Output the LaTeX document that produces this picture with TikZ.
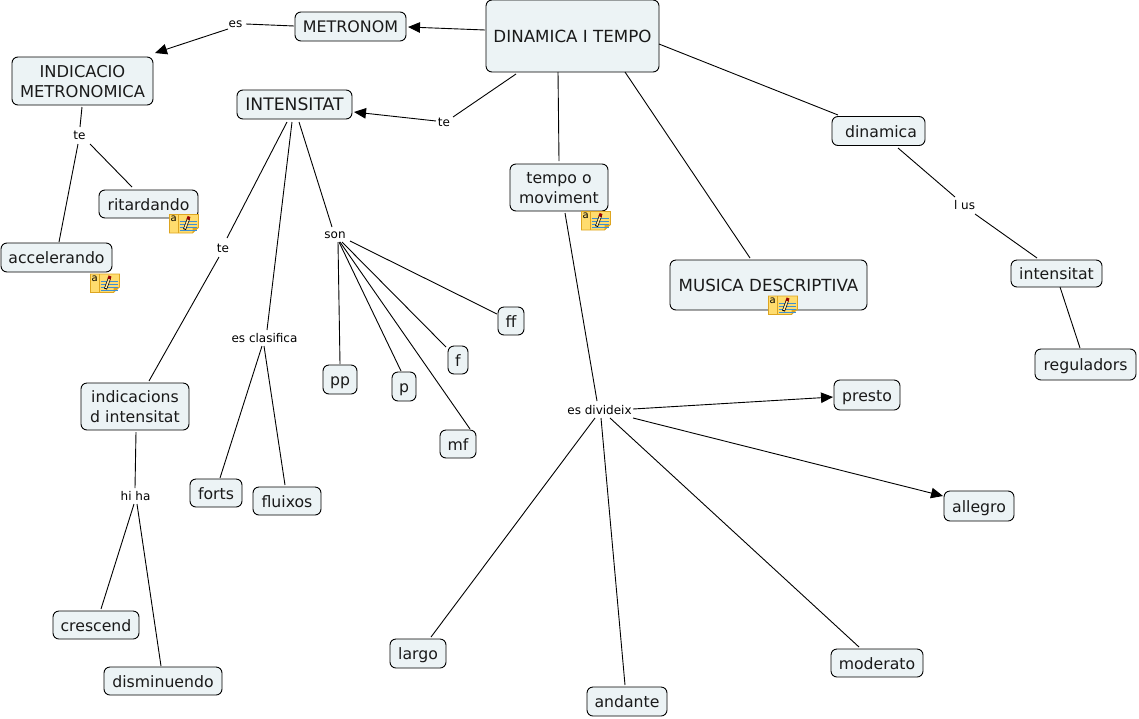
\documentclass[tikz,border=0pt]{standalone}
\usepackage{fontspec}
\setmainfont{DejaVu Sans}
\usetikzlibrary{arrows.meta}
\definecolor{boxfill}{HTML}{ECF3F5}
\definecolor{inkc}{HTML}{1A1A1A}
\definecolor{notey}{HTML}{FFDC6E}
\definecolor{noteo}{HTML}{DDA520}
\definecolor{noteb}{HTML}{3F8FD0}
\tikzset{
 box/.style={draw=black,line width=0.9pt,fill=boxfill,rounded corners=6pt,inner sep=0pt,text=inkc,font=\fontsize{15.7}{20}\selectfont},
 capsbox/.style={box,font=\fontsize{16.7}{20}\selectfont},
 lab/.style={inner sep=0pt,text=black,font=\fontsize{12}{13}\selectfont},
 conn/.style={draw=black,line width=0.9pt},
 arr/.style={conn,-{Triangle[length=12pt,width=10.5pt]}}
}
\newcommand{\bx}[7][box]{\node[#1,minimum width=#5pt,minimum height=#6pt] (#2) at (#3,#4) {\raisebox{-2.4pt}[\height][\depth]{\begin{tabular}{@{}c@{}}#7\end{tabular}}};}
\newcommand{\lb}[4]{\node[lab] (#1) at (#2,#3) {#4};}
% connector: node, offset, node, offset, style
\newcommand{\cn}[5][conn]{\draw[#1] ([shift={(#3)}]#2.center) -- ([shift={(#5)}]#4.center);}
\newcommand{\noteicon}[2]{%
\begin{scope}[shift={(#1,#2)}]
\fill[notey,draw=noteo,line width=0.8pt] (0,0) -- (29,0) -- (29,13) -- (23,18.5) -- (0,18.5) -- cycle;
\draw[noteo,line width=0.7pt] (9,0) -- (9,18);
\fill[noteo] (23,18.5) -- (23,13) -- (29,13) -- cycle;
\foreach \yy in {7,10,13,16}{\draw[noteb,line width=0.8pt] (10,\yy) -- (27,\yy);}
\draw[black,line width=3pt] (15,15) -- (19,4);
\draw[notey!60!white,line width=1.6pt] (15.3,14) -- (18.7,5);
\draw[red!60!black,line width=3pt] (18.4,5) -- (19.6,2);
\node[inner sep=0pt,font=\fontsize{10}{10}\selectfont] at (4.3,4.5) {a};
\end{scope}}
\begin{document}
\begin{tikzpicture}[x=1pt,y=-1pt]
\useasboundingbox (0,0) rectangle (1139,718);
\fill[white] (0,0) rectangle (1139,718);
\bx[capsbox]{din}{572.5}{36}{173}{72}{DINAMICA I TEMPO}
\bx[capsbox,font=\fontsize{15.9}{20}\selectfont]{met}{350.5}{26.5}{111}{29}{METRONOM}
\bx[capsbox,font=\fontsize{16.3}{20}\selectfont]{ind}{82.5}{81}{141}{48}{INDICACIO\\METRONOMICA}
\bx[capsbox,font=\fontsize{17.2}{20}\selectfont]{int}{294.5}{104.5}{115}{29}{INTENSITAT}
\bx{dnm}{878.5}{131}{93}{29}{\ dinamica}
\bx{tem}{559}{187.5}{98}{47}{tempo o\\moviment}
\bx{rit}{148.5}{204}{99}{28}{ritardando}
\bx{acc}{56.5}{257.5}{111}{29}{accelerando}
\bx[capsbox]{mus}{768.5}{285}{197}{50}{MUSICA DESCRIPTIVA}
\bx{itt}{1056.5}{273.5}{91}{27}{intensitat}
\bx{reg}{1085.5}{364.5}{101}{31}{reguladors}
\bx{ff}{511}{321}{26}{28}{ff}
\bx{f}{458}{360}{20}{28}{f}
\bx{pp}{340}{379.5}{34}{29}{pp}
\bx{p}{404}{386.5}{24}{29}{p}
\bx{mf}{458}{444}{36}{28}{mf}
\bx{ini}{135}{406.5}{108}{47}{indicacions\\d intensitat}
\bx{pre}{867}{395}{66}{30}{presto}
\bx{all}{979}{506}{70}{30}{allegro}
\bx{for}{216}{493}{52}{28}{forts}
\bx{flu}{287}{501}{68}{28}{fluixos}
\bx{cre}{96}{625}{86}{28}{crescend}
\bx{dis}{163}{681}{118}{28}{disminuendo}
\bx{lar}{418}{653.5}{56}{29}{largo}
\bx{and}{627}{701.5}{80}{29}{andante}
\bx{mod}{877}{663}{92}{28}{moderato}
\lb{les}{235.5}{24.5}{es}
\lb{lte}{79.5}{135.5}{te}
\lb{ltb}{444}{122.5}{te}
\lb{ltc}{223}{248.5}{te}
\lb{lso}{335}{235}{son}
\lb{lcl}{264.5}{338.5}{es clasifica}
\lb{lhi}{135.5}{496.5}{hi ha}
\lb{ldv}{599.5}{410.5}{es divideix}
\lb{lus}{964.5}{205.5}{l us}
\cn[arr]{din}{-87.5,-6}{met}{57.5,0.5}
\cn{met}{-56.5,-0.5}{les}{10.5,-0.5}
\cn[arr]{les}{-7.5,4.5}{ind}{72.5,-28}
\cn{ind}{-0.5,26}{lte}{0.5,-8.5}
\cn{lte}{-1.5,8.5}{acc}{2.5,-15.5}
\cn{lte}{10.5,8.5}{rit}{-16.5,-17}
\cn{din}{-56.5,38}{ltb}{9,-5.5}
\cn[arr]{ltb}{-8,-1.5}{int}{59.5,7.5}
\cn{din}{-14.5,36}{tem}{0,-26.5}
\cn{din}{52.5,36}{mus}{-18.5,-27}
\cn{din}{86.5,8}{dnm}{-40.5,-16}
\cn{dnm}{19.5,17}{lus}{-9.5,-8.5}
\cn{lus}{10.5,8.5}{itt}{-19.5,-15.5}
\cn{itt}{3.5,13.5}{reg}{-5.5,-16.5}
\cn{int}{-7.5,17.5}{ltc}{4,-10.5}
\cn{ltc}{-4,8.5}{ini}{14,-25.5}
\cn{int}{-2.5,17.5}{lcl}{2.5,-8.5}
\cn{lcl}{-2.5,7.5}{for}{4,-15}
\cn{lcl}{-0.5,7.5}{flu}{-2,-16}
\cn{int}{4.5,17.5}{lso}{-3,-8}
\cn{lso}{3,7}{pp}{0,-15.5}
\cn{lso}{4,7}{p}{-3,-15.5}
\cn{lso}{7,7}{f}{-12,-13}
\cn{lso}{5,7}{mf}{12,-15}
\cn{lso}{15,6}{ff}{-14,-7}
\cn{tem}{6,25.5}{ldv}{-2.5,-9.5}
\cn[arr]{ldv}{33.5,-1.5}{pre}{-34,2}
\cn[arr]{ldv}{33.5,7.5}{all}{-36,-10}
\cn{ldv}{10.5,7.5}{mod}{-18,-16}
\cn{ldv}{1.5,7.5}{and}{-2,-16.5}
\cn{ldv}{-4.5,7.5}{lar}{13,-16.5}
\cn{ini}{1,25.5}{lhi}{-0.5,-8.5}
\cn{lhi}{-1.5,7.5}{cre}{5,-16}
\cn{lhi}{1.5,7.5}{dis}{-2,-15}
\noteicon{169.5}{214.5}
\noteicon{90.5}{274}
\noteicon{581.5}{211.5}
\noteicon{768.5}{296}
\end{tikzpicture}
\end{document}
